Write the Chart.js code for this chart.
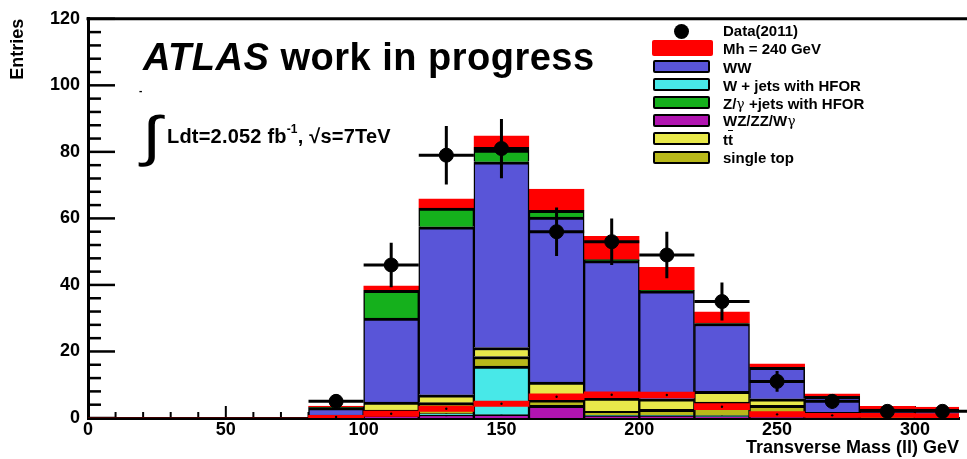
<!DOCTYPE html>
<html><head><meta charset="utf-8">
<script src="https://cdn.jsdelivr.net/npm/chart.js@4.4.0/dist/chart.umd.min.js"></script>
<style>
html,body{margin:0;padding:0;background:#fff;overflow:hidden;}
#wrap{position:relative;width:967px;height:459px;font-family:"Liberation Sans",Arial,sans-serif;font-weight:bold;color:#000;}
canvas{position:absolute;left:0;top:0;}
.t{position:absolute;white-space:nowrap;line-height:1;}
.lg{position:absolute;left:723px;font-size:15px;line-height:18px;white-space:nowrap;}
.bx{position:absolute;left:653px;width:53px;height:9px;border:2.5px solid #000;border-radius:2px;}
.gam{font-family:"DejaVu Serif",serif;font-weight:normal;font-size:14px;}
</style></head><body>
<div id="wrap">
<canvas id="c" width="967" height="459"></canvas>
<div class="t" style="left:143px;top:37.8px;font-size:38px;letter-spacing:0.5px"><i>ATLAS</i> work in progress</div>
<div class="t" style="left:139px;top:86px;font-size:10px">-</div>
<div class="t" style="left:142px;top:109px;font-size:44px;font-weight:normal;transform:scale(1.6,1.25);transform-origin:0 0">&#8747;</div>
<div class="t" style="left:167px;top:126px;font-size:20px;letter-spacing:0.2px">Ldt=2.052 fb<span style="font-size:12px;position:relative;top:-10px">-1</span>, &#8730;s=7TeV</div>

<div style="position:absolute;left:674px;top:24px;width:15px;height:15px;border-radius:50%;background:#000"></div>
<div class="lg" style="top:22px">Data(2011)</div>
<div style="position:absolute;left:652px;top:40px;width:61px;height:15.5px;background:#ff0000;border-radius:2px"></div>
<div class="lg" style="top:40px">Mh = 240 GeV</div>
<div class="bx" style="top:60px;background:#5955d8"></div>
<div class="lg" style="top:58.5px">WW</div>
<div class="bx" style="top:77.5px;background:#48e8e8"></div>
<div class="lg" style="top:76.5px">W + jets with HFOR</div>
<div class="bx" style="top:95.5px;background:#15b01c"></div>
<div class="lg" style="top:94.5px">Z/<span class="gam">γ</span> +jets with HFOR</div>
<div class="bx" style="top:113.5px;background:#b014b0"></div>
<div class="lg" style="top:112px">WZ/ZZ/W<span class="gam">γ</span></div>
<div class="bx" style="top:132px;background:#e8e84a"></div>
<div class="lg" style="top:130.5px">t<span style="text-decoration:overline">t</span></div>
<div class="bx" style="top:150.5px;background:#b8b81a"></div>
<div class="lg" style="top:148.5px">single top</div>
</div>
<script>
// ---- data ----
const massBins   = [10,30,50,70,90,110,130,150,170,190,210,230,250,270,290,310]; // bin centres (GeV), 20 GeV bins
const binHalf    = 10;
const wzzz       = [0,0,0,0,0.2,0.6,0.9,1.0,3.8,0.5,0.5,0.4,0.3,0.1,0,0];
const wjets      = [0,0,0,0,0,0.6,0.4,14.6,0,0.3,0.3,0.3,0.2,0,0,0];
const singleTop  = [0,0,0,0,0.1,1.2,3.3,2.9,1.5,1.2,1.8,4.1,3.3,0.6,0.3,0.2];
const ttbar      = [0,0,0,0,0.6,2.4,2.4,2.7,5.5,4.0,3.2,3.2,2.0,1.0,0.5,0.4];
const ww         = [0,0,0,0,2.2,25.2,50.5,55.8,49.6,41.3,32.4,20.4,9.4,4.8,1.9,2.0];
const zjets      = [0,0,0,0,0.2,8.4,5.6,3.5,2.0,0.3,0.2,0.1,0,0,0,0];
const higgs      = [0,0,0,0,0.3,1.3,2.8,4.3,6.4,7.0,6.9,3.4,1.1,0.8,0.8,0.7];
const higgsErr   = [0,0,0,0,0.5,0.8,0.8,0.8,0.9,0.9,0.9,0.9,0.8,0.6,0.6,0.6];
const dataVals   = [null,null,null,null,5,46,79,81,56,53,49,35,11,5,2,2];
const dataErr    = [null,null,null,null,2.2,6.7,8.8,8.9,7.3,7.0,7.0,5.7,3.1,2.2,1.4,1.4];
const xTickVals  = [0,50,100,150,200,250,300];
const yTickVals  = [0,20,40,60,80,100,120];

// ---- styling ----
Chart.defaults.font.family = '"Liberation Sans", Arial, sans-serif';
Chart.defaults.font.weight = 'bold';
Chart.defaults.font.size = 18;
Chart.defaults.color = '#000';

const pts = arr => massBins.map((x, i) => ({x, y: arr[i]}));
const stackBar = (label, arr, color, order, border) => ({
  type: 'bar', label, data: pts(arr), backgroundColor: color,
  borderColor: border || '#000', borderWidth: border ? 1 : {top: 3, left: 1.5, right: 1.5, bottom: 0},
  borderSkipped: 'start', stack: 'mc', order
});

const datasets = [
  {type: 'line', label: 'Data(2011)', data: massBins.map((x, i) => ({x, y: dataVals[i]})),
   showLine: false, pointRadius: 7, pointBackgroundColor: '#000', pointBorderColor: '#000', stack: 'data', order: 0},
  {type: 'line', label: 'sigdot', data: massBins.map((x, i) => ({x, y: higgs[i] > 0 ? higgs[i] : null})),
   showLine: false, pointRadius: 1.2, pointBackgroundColor: '#000', pointBorderWidth: 0, stack: 'sigdot', order: 1},
  {type: 'bar', label: 'Mh band', data: massBins.map((x, i) => ({x, y: [higgs[i] - higgsErr[i], higgs[i] + higgsErr[i]]})),
   backgroundColor: '#ff0000', borderWidth: 0, stack: 'band', order: 2},
  stackBar('WZ/ZZ/Wγ', wzzz, '#b014b0', 10),
  stackBar('W + jets with HFOR', wjets, '#48e8e8', 11),
  stackBar('single top', singleTop, '#b8b81a', 12),
  stackBar('tt', ttbar, '#e8e84a', 13),
  stackBar('WW', ww, '#5955d8', 14),
  stackBar('Z/γ +jets with HFOR', zjets, '#15b01c', 15),
  stackBar('Mh = 240 GeV', higgs, '#ff0000', 16, '#ff0000')
];

const rootAxes = {
  id: 'rootAxes',
  beforeDatasetsDraw(chart) {
    const {ctx, scales: {x, y}} = chart;
    const x0 = x.getPixelForValue(0), y0 = y.getPixelForValue(0);
    ctx.save();
    ctx.strokeStyle = '#000';
    ctx.lineWidth = 2.5;
    for (let v = 0; v <= 120; v += 4) {
      const py = y.getPixelForValue(v), len = v % 20 === 0 ? 27 : 13;
      ctx.beginPath(); ctx.moveTo(x0, py); ctx.lineTo(x0 + len, py); ctx.stroke();
    }
    ctx.lineWidth = 2;
    for (let v = 10; v <= 310; v += 10) {
      const px = x.getPixelForValue(v), len = v % 50 === 0 ? 12 : 6;
      ctx.beginPath(); ctx.moveTo(px, y0); ctx.lineTo(px, y0 - len); ctx.stroke();
    }
    ctx.restore();
  },
  afterDatasetsDraw(chart) {
    const {ctx, scales: {x, y}} = chart;
    ctx.save();
    ctx.strokeStyle = '#000';
    ctx.lineWidth = 3;
    massBins.forEach((m, i) => {
      if (dataVals[i] == null) return;
      const px = x.getPixelForValue(m), py = y.getPixelForValue(dataVals[i]);
      ctx.beginPath();
      ctx.moveTo(x.getPixelForValue(m - binHalf), py); ctx.lineTo(x.getPixelForValue(m + binHalf), py);
      ctx.moveTo(px, y.getPixelForValue(dataVals[i] - dataErr[i])); ctx.lineTo(px, y.getPixelForValue(dataVals[i] + dataErr[i]));
      ctx.stroke();
    });
    ctx.restore();
  },
  afterDraw(chart) {
    const {ctx, chartArea, scales: {y}} = chart;
    ctx.save();
    ctx.strokeStyle = '#000';
    ctx.lineWidth = 3;
    const py = y.getPixelForValue(120);
    ctx.beginPath(); ctx.moveTo(chartArea.left - 1.5, py); ctx.lineTo(chart.width, py); ctx.stroke();
    ctx.restore();
  }
};

new Chart(document.getElementById('c'), {
  type: 'bar',
  data: {datasets},
  plugins: [rootAxes],
  options: {
    responsive: false,
    animation: false,
    devicePixelRatio: 1,
    layout: {padding: {top: 15, right: 1, left: 0, bottom: 0}},
    datasets: {bar: {grouped: false, barPercentage: 1, categoryPercentage: 1}},
    plugins: {legend: {display: false}, tooltip: {enabled: false}},
    scales: {
      x: {
        type: 'linear', min: 0, max: 316, offset: false,
        grid: {display: false, drawTicks: false},
        border: {display: true, color: '#000', width: 3},
        afterBuildTicks: s => { s.ticks = xTickVals.map(v => ({value: v})); },
        ticks: {padding: 1, maxRotation: 0, autoSkip: false, callback: v => String(v)},
        title: {display: true, text: 'Transverse Mass (ll) GeV', align: 'end', padding: {top: 0, bottom: 0}, font: {size: 18, weight: 'bold'}},
        afterFit: s => { s.height = 41; }
      },
      y: {
        stacked: true, min: 0, max: 120,
        grid: {display: false, drawTicks: false},
        border: {display: true, color: '#000', width: 3},
        afterBuildTicks: s => { s.ticks = yTickVals.map(v => ({value: v})); },
        ticks: {padding: 8, callback: v => String(v)},
        title: {display: true, text: 'Entries', align: 'end', padding: {top: 7, bottom: 0}, font: {size: 18, weight: 'bold'}},
        afterFit: s => { s.width = 88; }
      }
    }
  }
});
</script>
</body></html>
